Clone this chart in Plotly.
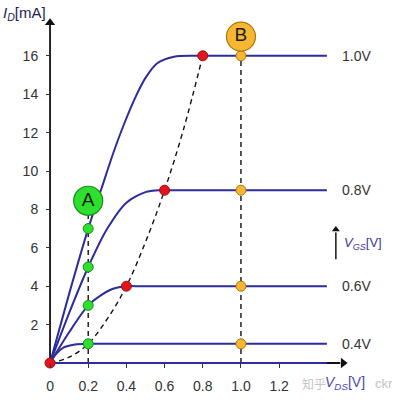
import plotly.graph_objects as go

# ---- data ----
vgs_labels = ["1.0V", "0.8V", "0.6V", "0.4V"]
sat_levels = [16, 9, 4, 1]

c10_x = [0, 0.1, 0.2, 0.27, 0.33, 0.39, 0.45, 0.5, 0.56, 0.65, 0.75, 0.85, 0.95, 1.45]
c10_y = [0, 3.6, 7, 9.1, 10.9, 12.5, 13.9, 14.85, 15.6, 15.95, 16, 16, 16, 16]
c08_x = [0, 0.1, 0.2, 0.3, 0.4, 0.5, 0.58, 0.65, 0.75, 1.45]
c08_y = [0, 2.6, 5, 7.0, 8.35, 8.9, 9, 9, 9, 9]
c06_x = [0, 0.1, 0.2, 0.27, 0.33, 0.4, 0.47, 0.55, 1.45]
c06_y = [0, 1.6, 3, 3.55, 3.87, 4, 4, 4, 4]
c04_x = [0, 0.03, 0.07, 0.13, 0.2, 0.27, 0.35, 1.45]
c04_y = [0, 0.45, 0.8, 0.96, 1, 1, 1, 1]
c00_x = [0, 1.45]
c00_y = [0, 0]

sat_x = [0, 0.1, 0.2, 0.3, 0.4, 0.5, 0.6, 0.7, 0.8]
sat_y = [0, 0.3, 1, 2.3, 4, 6.3, 9, 12.2, 16]

red_x = [0, 0.4, 0.6, 0.8]
red_y = [0, 4, 9, 16]
green_x = [0.2, 0.2, 0.2, 0.2]
green_y = [1, 3, 5, 7]
orange_x = [1.0, 1.0, 1.0, 1.0]
orange_y = [1, 4, 9, 16]

A_pos = (0.2, 8.45)
B_pos = (1.0, 17.0)

xticks = [0, 0.2, 0.4, 0.6, 0.8, 1.0, 1.2]
xticktext = ["0", "0.2", "0.4", "0.6", "0.8", "1.0", "1.2"]
yticks = [2, 4, 6, 8, 10, 12, 14, 16]

BLUE = "#2c2c9c"
FONT = "Liberation Sans, Arial, sans-serif"

fig = go.Figure()

# axes lines with arrowheads
fig.add_trace(go.Scatter(x=[0, 0], y=[0, 17.6], mode="lines", line=dict(color="#111", width=1.8),
                         hoverinfo="skip"))
fig.add_trace(go.Scatter(x=[0, 1.52], y=[0, 0], mode="lines", line=dict(color="#111", width=1.8),
                         hoverinfo="skip"))
fig.add_trace(go.Scatter(x=[0], y=[17.72], mode="markers", cliponaxis=False,
                         marker=dict(symbol="triangle-up", size=9, color="#111"), hoverinfo="skip"))
fig.add_trace(go.Scatter(x=[1.535], y=[0], mode="markers", cliponaxis=False,
                         marker=dict(symbol="triangle-right", size=9, color="#111"), hoverinfo="skip"))
# V_GS arrow
fig.add_trace(go.Scatter(x=[1.497, 1.497], y=[5.4, 6.8], mode="lines", line=dict(color="#111", width=1.5),
                         hoverinfo="skip"))
fig.add_trace(go.Scatter(x=[1.497], y=[6.95], mode="markers", cliponaxis=False,
                         marker=dict(symbol="triangle-up", size=7, color="#111"), hoverinfo="skip"))

# vertical dashed lines
fig.add_trace(go.Scatter(x=[A_pos[0], A_pos[0]], y=[0, A_pos[1]], mode="lines",
                         line=dict(color="#111", width=1.4, dash="5px,4px"), hoverinfo="skip"))
fig.add_trace(go.Scatter(x=[B_pos[0], B_pos[0]], y=[0, B_pos[1]], mode="lines",
                         line=dict(color="#111", width=1.4, dash="5px,4px"), hoverinfo="skip"))
# saturation boundary
fig.add_trace(go.Scatter(x=sat_x, y=sat_y, mode="lines", line_shape="spline",
                         line=dict(color="#111", width=1.4, dash="5px,4px"), hoverinfo="skip"))

# characteristic curves
for cx, cy in [(c00_x, c00_y), (c04_x, c04_y), (c06_x, c06_y), (c08_x, c08_y), (c10_x, c10_y)]:
    fig.add_trace(go.Scatter(x=cx, y=cy, mode="lines", line_shape="spline",
                             line=dict(color=BLUE, width=2, smoothing=0.8), hoverinfo="skip"))

# points
fig.add_trace(go.Scatter(x=green_x, y=green_y, mode="markers", cliponaxis=False,
                         marker=dict(size=10, color="#2ee02e", line=dict(color="#1c8a1c", width=1))))
fig.add_trace(go.Scatter(x=orange_x, y=orange_y, mode="markers", cliponaxis=False,
                         marker=dict(size=10, color="#f7b731", line=dict(color="#a87a10", width=1))))
fig.add_trace(go.Scatter(x=red_x, y=red_y, mode="markers", cliponaxis=False,
                         marker=dict(size=10, color="#e3141c", line=dict(color="#9a1010", width=1))))
fig.add_trace(go.Scatter(x=[A_pos[0]], y=[A_pos[1]], mode="markers+text", text=["A"],
                         textposition="middle center", cliponaxis=False,
                         textfont=dict(family=FONT, size=19, color="#1a1a1a"),
                         marker=dict(size=29, color="#2ee02e", line=dict(color="#1c8a1c", width=1.2))))
fig.add_trace(go.Scatter(x=[B_pos[0]], y=[B_pos[1]], mode="markers+text", text=["B"],
                         textposition="middle center", cliponaxis=False,
                         textfont=dict(family=FONT, size=19, color="#1a1a1a"),
                         marker=dict(size=29, color="#f7b731", line=dict(color="#a87a10", width=1.2))))

annotations = []
# curve labels
for lab, lev in zip(vgs_labels, sat_levels):
    annotations.append(dict(x=1.52, y=lev, xref="x", yref="y", text=lab, showarrow=False,
                            xanchor="left", yanchor="middle",
                            font=dict(family=FONT, size=14, color="#333")))
# V_GS label
annotations.append(dict(x=1.53, y=6.25, xref="x", yref="y", xanchor="left", yanchor="middle",
                        text="<i>V<sub>GS</sub></i>[V]", showarrow=False,
                        font=dict(family=FONT, size=13, color="#3a3aa0")))
# I_D label
annotations.append(dict(x=-0.255, y=18.2, xref="x", yref="y", xanchor="left", yanchor="middle",
                        text="<i>I<sub>D</sub></i>[mA]", showarrow=False,
                        font=dict(family=FONT, size=15, color="#1e1e50")))
# watermark + V_DS label
annotations.append(dict(x=1.31, y=-1.05, xref="x", yref="y", xanchor="left", yanchor="middle",
                        text="知乎", showarrow=False,
                        font=dict(family="Noto Sans CJK SC", size=12, color="#c4c4c4")))
annotations.append(dict(x=1.69, y=-1.05, xref="x", yref="y", xanchor="left", yanchor="middle",
                        text="ckr", showarrow=False,
                        font=dict(family=FONT, size=13, color="#c4c4c4")))
annotations.append(dict(x=1.43, y=-1.05, xref="x", yref="y", xanchor="left", yanchor="middle",
                        text="<i>V<sub>DS</sub></i>[V]", showarrow=False,
                        font=dict(family=FONT, size=14, color="#4a4ab0")))

fig.update_layout(
    width=396, height=400,
    margin=dict(l=0, r=0, t=0, b=0),
    paper_bgcolor="white", plot_bgcolor="white",
    showlegend=False,
    annotations=annotations,
    xaxis=dict(range=[-0.262, 1.812], domain=[0, 1], anchor="free", position=1.927 / 20.833,
               showgrid=False, zeroline=False, showline=False,
               tickmode="array", tickvals=xticks, ticktext=xticktext,
               ticks="outside", ticklen=4, tickwidth=1.2, tickcolor="#333",
               ticklabelstandoff=6,
               tickfont=dict(family=FONT, size=14, color="#333")),
    yaxis=dict(range=[-1.927, 18.906], domain=[0, 1], anchor="free", position=50 / 396,
               showgrid=False, zeroline=False, showline=False,
               tickmode="array", tickvals=yticks,
               ticks="outside", ticklen=4, tickwidth=1.2, tickcolor="#333",
               ticklabelstandoff=5,
               tickfont=dict(family=FONT, size=14, color="#333")),
)

fig.write_html("out.html", config={"displayModeBar": False},
               post_script="document.body.style.margin='0';document.body.style.overflow='hidden';")
